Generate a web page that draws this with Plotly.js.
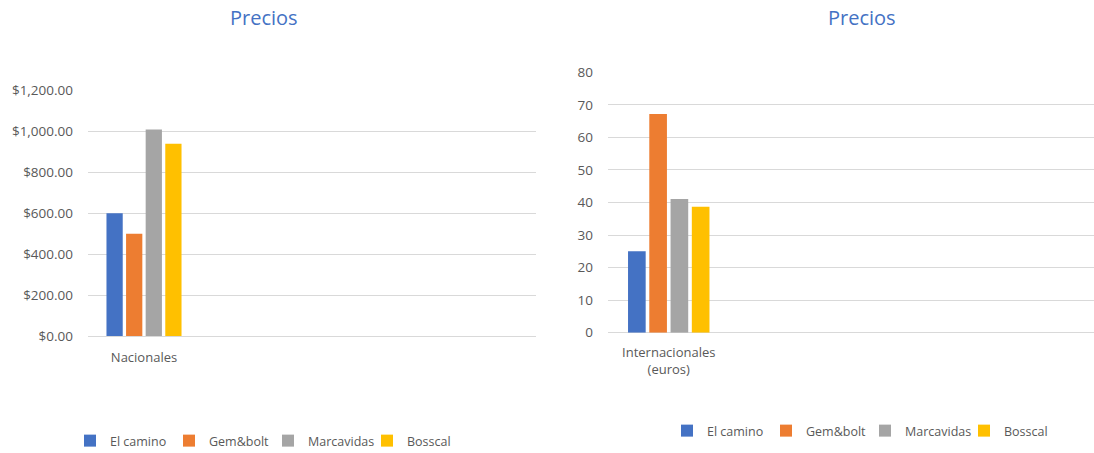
<!DOCTYPE html>
<html>
<head>
<meta charset="utf-8">
<script src="https://cdn.plot.ly/plotly-3.0.1.min.js"></script>
<style>html,body{margin:0;padding:0;background:#fff;}#chart{width:1094px;height:453px;}</style>
</head>
<body>
<div id="chart"></div>
<script>
// Data
const seriesNames = ["El camino", "Gem&bolt", "Marcavidas", "Bosscal"];
const seriesColors = ["#4472C4", "#ED7D31", "#A5A5A5", "#FFC000"];
const catNacional = ["Nacionales"];
const catInternacional = ["Internacionales<br>(euros)"];
const valNacional = [600, 500, 1010, 940];
const valInternacional = [25, 67.2, 41.1, 38.7];

const FONT = "Open Sans, Noto Sans, sans-serif";
const TXT = "#595959";
const W = 1094, H = 453;

const traces = [];
seriesNames.forEach((n, i) => {
  traces.push({type: "bar", name: n, x: catNacional, y: [valNacional[i]],
    marker: {color: seriesColors[i]}, xaxis: "x", yaxis: "y", legend: "legend",
    hoverinfo: "y+name"});
});
seriesNames.forEach((n, i) => {
  traces.push({type: "bar", name: n, x: catInternacional, y: [valInternacional[i]],
    marker: {color: seriesColors[i]}, xaxis: "x2", yaxis: "y2", legend: "legend2",
    hoverinfo: "y+name"});
});

const legendCommon = {orientation: "h", xanchor: "left", yanchor: "middle",
  font: {family: FONT, size: 12.5, color: TXT}, bgcolor: "rgba(0,0,0,0)",
  itemwidth: 30, entrywidth: 54, entrywidthmode: "pixels", traceorder: "normal"};

const layout = {
  width: W, height: H,
  margin: {l: 0, r: 0, t: 0, b: 0, autoexpand: false},
  paper_bgcolor: "#fff", plot_bgcolor: "#fff",
  showlegend: true,
  barmode: "group", bargap: 0.3, bargroupgap: 0.17,
  font: {family: FONT, color: TXT},
  xaxis: {domain: [88/W, 536/W], type: "category", range: [-0.5, 3.5],
    showgrid: false, zeroline: false, showline: false, ticks: "",
    ticklabelstandoff: 12,
    tickfont: {family: FONT, size: 13, color: TXT}, anchor: "y", fixedrange: true},
  yaxis: {domain: [(H-336)/H, (H-90.7)/H], range: [0, 1200], dtick: 200,
    tickprefix: "$", tickformat: ",.2f", showgrid: true, gridcolor: "#D9D9D9", gridwidth: 1,
    zeroline: true, zerolinecolor: "#D9D9D9", zerolinewidth: 1, showline: false,
    ticklabelstandoff: 14,
    tickfont: {family: FONT, size: 13.5, color: TXT}, anchor: "x", fixedrange: true},
  xaxis2: {domain: [608/W, 1], type: "category", range: [-0.5, 3.5],
    showgrid: false, zeroline: false, showline: false, ticks: "",
    ticklabelstandoff: 10,
    tickfont: {family: FONT, size: 13, color: TXT}, anchor: "y2", fixedrange: true},
  yaxis2: {domain: [(H-332.7)/H, (H-72.3)/H], range: [0, 80], dtick: 10,
    showgrid: true, gridcolor: "#D9D9D9", gridwidth: 1,
    zeroline: true, zerolinecolor: "#D9D9D9", zerolinewidth: 1, showline: false,
    ticklabelstandoff: 14,
    tickfont: {family: FONT, size: 13.5, color: TXT}, anchor: "x2", fixedrange: true},
  legend: Object.assign({}, legendCommon, {x: 70/W, y: (H-441)/H}),
  legend2: Object.assign({}, legendCommon, {x: 667/W, y: (H-431)/H}),
  annotations: [
    {text: "Precios", x: 264/W, y: 1 - 18/H, xref: "paper", yref: "paper",
      xanchor: "center", yanchor: "middle", showarrow: false,
      font: {family: FONT, size: 20, color: "#4472C4"}},
    {text: "Precios", x: 862/W, y: 1 - 18/H, xref: "paper", yref: "paper",
      xanchor: "center", yanchor: "middle", showarrow: false,
      font: {family: FONT, size: 20, color: "#4472C4"}}
  ]
};

Plotly.newPlot("chart", traces, layout, {displayModeBar: false});
</script>
</body>
</html>
